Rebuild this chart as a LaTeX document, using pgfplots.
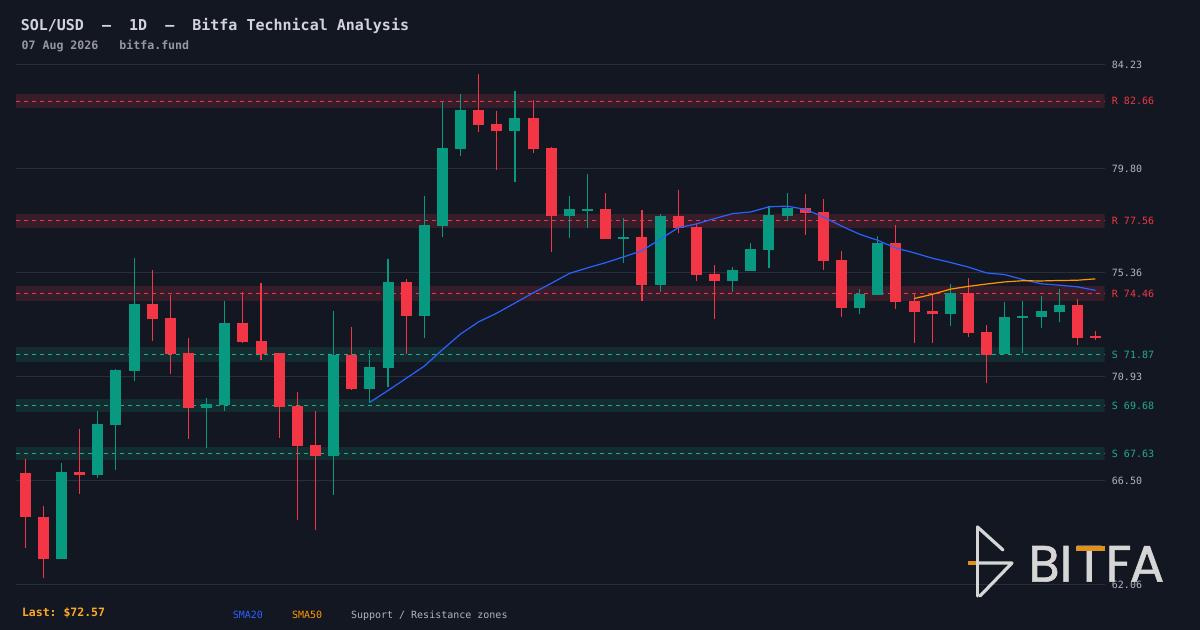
\documentclass[border=0pt]{standalone}
\usepackage{pgfplots}
\pgfplotsset{compat=1.18}
\usepackage{pgfplotstable}
\usepackage{fontspec}
\setmonofont{DejaVu Sans Mono}
\newfontfamily\logofont{Poppins}[FakeBold=1.2]
\definecolor{bg}{HTML}{131722}
\definecolor{gridc}{HTML}{2A2E39}
\definecolor{tickc}{HTML}{B2B5BE}
\definecolor{cgreen}{HTML}{089981}
\definecolor{cred}{HTML}{F23645}
\definecolor{zred}{HTML}{371C29}
\definecolor{zgreen}{HTML}{132C2F}
\definecolor{lgreen}{HTML}{22AB94}
\definecolor{smablue}{HTML}{2962FF}
\definecolor{smaorange}{HTML}{FF9800}
\definecolor{lastc}{HTML}{FFA726}
\definecolor{titlec}{HTML}{D1D4DC}
\definecolor{subc}{HTML}{9598A1}
\definecolor{logoc}{HTML}{D6D6D6}
\definecolor{logoor}{HTML}{E0901C}

\pgfplotstableread{
x O H L C
2 63.16 67.24 63.16 66.85
4 66.74 69.45 66.61 68.90
5 68.87 71.25 66.95 71.20
6 71.17 75.97 70.74 74.01
10 69.59 70.01 67.89 69.74
11 69.71 74.14 69.45 73.20
17 67.55 73.71 65.89 71.85
19 70.40 72.05 69.82 71.33
20 71.30 75.93 70.49 74.95
22 73.51 78.61 72.59 77.37
23 77.35 82.63 76.88 80.65
24 80.61 82.96 80.33 82.27
27 81.39 83.08 79.22 81.93
30 77.77 78.61 76.83 78.06
31 77.98 79.55 77.25 78.06
33 76.78 77.67 75.77 76.87
35 74.82 77.84 74.52 77.76
39 74.99 75.59 74.52 75.46
40 75.42 76.61 75.42 76.35
41 76.31 78.18 75.54 77.80
42 77.76 78.74 77.55 78.10
46 73.84 74.65 73.58 74.44
47 74.39 76.91 74.39 76.61
51 73.58 74.86 73.07 74.48
54 71.88 74.09 71.88 73.46
55 73.41 74.14 71.92 73.50
56 73.46 74.35 72.99 73.71
57 73.67 74.65 73.24 73.97
}\greendata

\pgfplotstableread{
x O H L C
0 66.81 67.41 63.63 64.95
1 64.96 65.41 62.35 63.16
3 66.85 68.69 65.93 66.74
7 74.01 75.46 72.45 73.37
8 73.41 74.39 71.04 71.89
9 71.92 72.56 68.27 69.59
12 73.20 74.52 72.36 72.39
13 72.43 74.90 71.64 71.89
14 71.92 71.95 68.31 69.63
15 69.68 70.26 64.82 67.97
16 67.99 69.46 64.40 67.55
18 71.85 73.03 70.35 70.40
21 74.95 75.07 71.89 73.51
25 82.27 83.81 81.35 81.65
26 81.68 82.23 79.73 81.39
28 81.93 82.70 80.45 80.63
29 80.65 80.70 76.24 77.77
32 78.06 78.74 76.78 76.78
34 76.86 78.01 74.14 74.82
36 77.76 78.87 77.03 77.25
37 77.29 77.46 74.99 75.24
38 75.29 75.67 73.37 74.99
43 78.10 78.69 76.95 77.89
44 77.93 78.48 75.46 75.84
45 75.88 76.27 73.46 73.84
48 76.61 77.38 73.80 74.09
49 74.14 74.44 72.35 73.67
50 73.71 74.44 72.35 73.58
52 74.48 75.12 72.60 72.77
53 72.82 73.11 70.64 71.84
58 73.97 74.22 72.26 72.56
59 72.67 72.86 72.48 72.57
}\reddata

\begin{document}
\begin{tikzpicture}[x=1pt,y=1pt]
\fill[bg] (0,0) rectangle (600,315);
\useasboundingbox (0,0) rectangle (600,315);

\node[anchor=base west, inner sep=0pt, text=titlec, font=\ttfamily\bfseries\fontsize{7.5}{9}\selectfont] at (10.2,299.6) {SOL/USD\ \ —\ \ 1D\ \ —\ \ Bitfa Technical Analysis};
\node[anchor=base west, inner sep=0pt, text=subc, font=\ttfamily\bfseries\fontsize{5.8}{7}\selectfont] at (10.6,290.1) {07 Aug 2026\ \ \ bitfa.fund};

\begin{axis}[at={(8.9,19.35)}, anchor=south west, scale only axis,
  width=544.2pt, height=260.1pt,
  xmin=-0.5, xmax=59.5, ymin=62.06, ymax=84.23,
  axis line style={draw=none},
  xtick=\empty,
  ytick={62.06,66.494,70.928,75.362,79.796,84.23},
  yticklabels={62.06,66.50,70.93,75.36,79.80,84.23},
  yticklabel pos=right,
  major tick length=0pt,
  ymajorgrids,
  grid style={draw=gridc, line width=0.5pt},
  yticklabel style={font=\ttfamily\fontsize{5}{6}\selectfont, text=tickc, anchor=west, inner sep=0pt, xshift=3.5pt},
  extra y ticks={82.66,77.56,74.46,71.87,69.68,67.63},
  extra y tick labels={\textcolor{cred}{R 82.66},\textcolor{cred}{R 77.56},\textcolor{cred}{R 74.46},\textcolor{lgreen}{S 71.87},\textcolor{lgreen}{S 69.68},\textcolor{lgreen}{S 67.63}},
  extra y tick style={grid=none, major tick length=0pt},
  clip=true,
]
% zones
\addplot[draw=none, fill=zred, forget plot] coordinates {(-0.5,82.35) (59.5,82.35) (59.5,82.97) (-0.5,82.97)};
\addplot[draw=none, fill=zred, forget plot] coordinates {(-0.5,77.25) (59.5,77.25) (59.5,77.87) (-0.5,77.87)};
\addplot[draw=none, fill=zred, forget plot] coordinates {(-0.5,74.15) (59.5,74.15) (59.5,74.77) (-0.5,74.77)};
\addplot[draw=none, fill=zgreen, forget plot] coordinates {(-0.5,71.56) (59.5,71.56) (59.5,72.18) (-0.5,72.18)};
\addplot[draw=none, fill=zgreen, forget plot] coordinates {(-0.5,69.41) (59.5,69.41) (59.5,69.96) (-0.5,69.96)};
\addplot[draw=none, fill=zgreen, forget plot] coordinates {(-0.5,67.37) (59.5,67.37) (59.5,67.92) (-0.5,67.92)};
\addplot[cred, line width=0.6pt, dash pattern=on 2pt off 2pt, forget plot] coordinates {(-0.5,82.66) (59.5,82.66)};
\addplot[cred, line width=0.6pt, dash pattern=on 2pt off 2pt, forget plot] coordinates {(-0.5,77.56) (59.5,77.56)};
\addplot[cred, line width=0.6pt, dash pattern=on 2pt off 2pt, forget plot] coordinates {(-0.5,74.46) (59.5,74.46)};
\addplot[lgreen, line width=0.6pt, dash pattern=on 2pt off 2pt, forget plot] coordinates {(-0.5,71.87) (59.5,71.87)};
\addplot[lgreen, line width=0.6pt, dash pattern=on 2pt off 2pt, forget plot] coordinates {(-0.5,69.68) (59.5,69.68)};
\addplot[lgreen, line width=0.6pt, dash pattern=on 2pt off 2pt, forget plot] coordinates {(-0.5,67.63) (59.5,67.63)};

% wicks
\addplot[draw=none, mark=none, forget plot, error bars/.cd, y dir=plus, y explicit, error mark=none, error bar style={line width=0.55pt, draw=cgreen, solid}]
  table[x=x, y=L, y error expr=\thisrow{H}-\thisrow{L}] {\greendata};
\addplot[draw=none, mark=none, forget plot, error bars/.cd, y dir=plus, y explicit, error mark=none, error bar style={line width=0.55pt, draw=cred, solid}]
  table[x=x, y=L, y error expr=\thisrow{H}-\thisrow{L}] {\reddata};
% bodies
\addplot[draw=none, mark=none, forget plot, error bars/.cd, y dir=plus, y explicit, error mark=none, error bar style={line width=5.5pt, draw=cgreen, solid}]
  table[x=x, y=O, y error expr=\thisrow{C}-\thisrow{O}] {\greendata};
\addplot[draw=none, mark=none, forget plot, error bars/.cd, y dir=plus, y explicit, error mark=none, error bar style={line width=5.5pt, draw=cred, solid}]
  table[x=x, y=C, y error expr=\thisrow{O}-\thisrow{C}] {\reddata};

% SMA20
\addplot[smablue, line width=0.6pt, mark=none] coordinates {
(19,69.83) (20,70.33) (21,70.85) (22,71.37) (23,72.07) (24,72.74) (25,73.26) (26,73.63) (27,74.06) (28,74.49) (29,74.90) (30,75.32) (31,75.56) (32,75.78) (33,76.03) (34,76.29) (35,76.78) (36,77.27) (37,77.43) (38,77.66) (39,77.87) (40,77.94) (41,78.16) (42,78.19) (43,78.05) (44,77.73) (45,77.34) (46,76.99) (47,76.73) (48,76.40) (49,76.20) (50,75.97) (51,75.79) (52,75.59) (53,75.34) (54,75.27) (55,75.06) (56,74.88) (57,74.82) (58,74.75) (59,74.60)};
% SMA50
\addplot[smaorange, line width=0.6pt, mark=none] coordinates {
(49,74.25) (50,74.43) (51,74.65) (52,74.77) (53,74.87) (54,74.96) (55,75.01) (56,75.00) (57,75.02) (58,75.03) (59,75.09)};
\end{axis}

% watermark logo
\begin{scope}[line width=1.6pt, line cap=round, line join=round]
\draw[logoc] (488.75,51.5) -- (488.75,17);
\draw[logoc] (488.75,51.5) -- (501.5,40);
\draw[logoc] (488.5,33.5) -- (506,33.5) -- (490,17);
\draw[logoor, line cap=butt] (484,33.5) -- (488,33.5);
\end{scope}
\begin{scope}[every node/.style={anchor=base west, inner sep=0pt, text=logoc, font=\logofont\fontsize{25.5}{25.5}\selectfont}]
\node at (514.0,24.2) {B};
\node at (529.7,24.2) {I};
\node at (537.5,24.2) {T};
\node at (552.7,24.2) {F};
\node at (564.7,24.2) {A};
\end{scope}
\fill[logoor] (538,39.6) rectangle (552.5,42.1);

% bottom legend
\node[anchor=base west, inner sep=0pt, text=lastc, font=\ttfamily\bfseries\fontsize{5.75}{7}\selectfont] at (10.8,6.5) {Last: \$72.57};
\node[anchor=base west, inner sep=0pt, text=smablue, font=\ttfamily\fontsize{5}{6}\selectfont] at (116.2,5.7) {SMA20};
\node[anchor=base west, inner sep=0pt, text=smaorange, font=\ttfamily\fontsize{5}{6}\selectfont] at (145.8,5.7) {SMA50};
\node[anchor=base west, inner sep=0pt, text=tickc, font=\ttfamily\fontsize{5}{6}\selectfont] at (175.3,5.7) {Support / Resistance zones};
\end{tikzpicture}
\end{document}
